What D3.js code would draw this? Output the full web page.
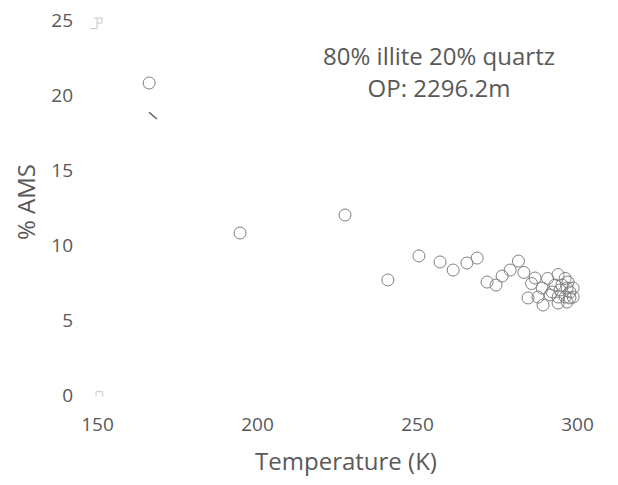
<!DOCTYPE html>
<html>
<head>
<meta charset="utf-8">
<script src="https://cdn.jsdelivr.net/npm/d3@7"></script>
<style>
  html, body { margin: 0; padding: 0; background: #fff; }
  svg { display: block; font-family: "Open Sans", sans-serif; }
</style>
</head>
<body>
<svg id="chart" width="618" height="485"></svg>
<script>
// Measured temperature (K) and %AMS for the sample
const temperature = [166.3, 194.7, 227.5, 240.9, 250.6, 257.2, 261.3, 265.6, 268.8, 271.9,
  274.7, 276.6, 279.1, 281.7, 283.4, 286.9, 285.8, 290.8, 294.1, 296.3,
  297.2, 293.1, 295.3, 296.9, 289.1, 292.2, 294.7, 297.8, 284.7, 287.8,
  291.6, 294.1, 296.3, 297.8, 289.4, 294.1, 296.9, 298.8, 298.8];
const amsPercent = [20.8, 10.8, 12.0, 7.67, 9.27, 8.87, 8.33, 8.8, 9.13, 7.53,
  7.33, 7.93, 8.33, 8.93, 8.17, 7.8, 7.43, 7.77, 8.03, 7.77,
  7.53, 7.33, 7.33, 7.13, 7.13, 6.87, 7.0, 6.87, 6.47, 6.53,
  6.67, 6.53, 6.53, 6.47, 6.0, 6.13, 6.2, 7.13, 6.53];

const xTicks = [150, 200, 250, 300];
const yTicks = [0, 5, 10, 15, 20, 25];

// Clipped marker fragments at the axis extremes and a short stray segment
const edgeMarkerT = [150, 150];
const edgeMarkerV = [25, 0];
const straySegmentT = [166.25, 168.7];
const straySegmentV = [18.85, 18.4];

const titleLines = ["80% illite 20% quartz", "OP: 2296.2m"];

const svg = d3.select("#chart");
const textColor = "#595959";

const x = d3.scaleLinear().domain([150, 300]).range([97, 577]);
const y = d3.scaleLinear().domain([0, 25]).range([395, 20]);

// X axis (labels only)
const xAxis = d3.axisBottom(x).tickValues(xTicks).tickSize(0).tickPadding(0);
const gx = svg.append("g").attr("transform", "translate(0,431)").call(xAxis);
gx.select(".domain").remove();
gx.selectAll("text")
  .attr("dy", null).attr("y", 0)
  .attr("fill", textColor)
  .style("font-size", "19px")
  .style("font-family", "'Open Sans', sans-serif");

// Y axis (labels only)
const yAxis = d3.axisLeft(y).tickValues(yTicks).tickSize(0).tickPadding(0);
const gy = svg.append("g").attr("transform", "translate(73,0)").call(yAxis);
gy.select(".domain").remove();
gy.selectAll("text")
  .attr("dy", "0.36em").attr("x", 0)
  .attr("fill", textColor)
  .style("font-size", "19px")
  .style("font-family", "'Open Sans', sans-serif");

// Axis titles
svg.append("text")
  .attr("x", 346).attr("y", 470)
  .attr("text-anchor", "middle")
  .attr("fill", textColor)
  .style("font-size", "24px")
  .text("Temperature (K)");

svg.append("text")
  .attr("transform", "translate(25,202) rotate(-90)")
  .attr("text-anchor", "middle")
  .attr("dominant-baseline", "central")
  .attr("fill", textColor)
  .style("font-size", "24px")
  .text("% AMS");

// Chart title
svg.append("g").selectAll("text")
  .data(titleLines)
  .join("text")
  .attr("x", 439)
  .attr("y", (d, i) => 65 + i * 32)
  .attr("text-anchor", "middle")
  .attr("fill", textColor)
  .style("font-size", "24px")
  .text(d => d);

// Partial marker fragments
const topFrag = "M-3,-2H5M0,-2V8.7M0,3H5V-2M-7,8.7H0";
const botFrag = "M-1,1.7V-3.3H5.7V1.7";
svg.append("g").selectAll("path")
  .data(edgeMarkerT.map((t, i) => ({ t, v: edgeMarkerV[i] })))
  .join("path")
  .attr("transform", d => `translate(${x(d.t)},${y(d.v)})`)
  .attr("d", (d, i) => i === 0 ? topFrag : botFrag)
  .attr("fill", "none")
  .attr("stroke", "#c8c8c8")
  .attr("stroke-width", 1);

svg.append("line")
  .attr("x1", x(straySegmentT[0])).attr("y1", y(straySegmentV[0]))
  .attr("x2", x(straySegmentT[1])).attr("y2", y(straySegmentV[1]))
  .attr("stroke", "#555")
  .attr("stroke-width", 1.3);

// Scatter points
svg.append("g").selectAll("circle")
  .data(temperature.map((t, i) => ({ t, v: amsPercent[i] })))
  .join("circle")
  .attr("cx", d => x(d.t))
  .attr("cy", d => y(d.v))
  .attr("r", 6)
  .attr("fill", "none")
  .attr("stroke", "#808080")
  .attr("stroke-width", 1);
</script>
</body>
</html>
